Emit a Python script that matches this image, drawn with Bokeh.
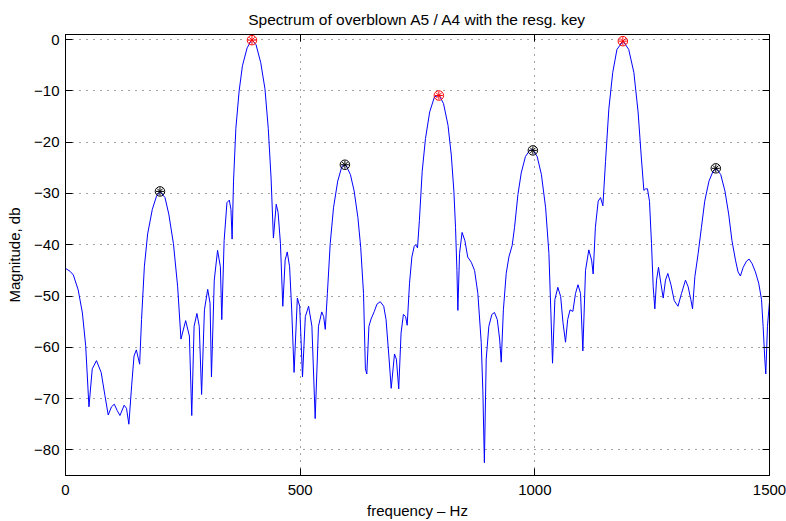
from bokeh.plotting import figure
from bokeh.models import LinearAxis, FixedTicker, Range1d, Title
from bokeh.embed import file_html
from bokeh.resources import INLINE

# ---- data ----
freq = [0, 10, 16.7, 27, 36, 43, 50, 57, 66, 76, 84, 91, 98, 104, 110, 116, 125, 130, 135,
        141, 146, 151, 154, 158, 162, 168, 175, 185, 194, 202, 212, 220, 230, 239, 246,
        256, 264, 269, 274, 280, 285, 290, 296, 303, 308, 311, 317, 324, 330, 333, 338,
        344, 349, 352.5, 355, 358, 363, 370, 377, 387, 397, 406, 416, 425, 432, 438, 443,
        449, 453, 458, 463, 468, 472.5, 477.5, 482, 487, 494, 499, 505, 511, 518, 525, 532,
        539, 546, 550, 553.5, 558, 564, 571, 580, 589, 597, 607, 615, 623, 629, 635, 639,
        642, 646.5, 651, 658, 663.5, 670.6, 678, 683, 689, 694, 701, 705, 710, 715, 720,
        724.6, 728, 733, 738, 743, 746, 750, 754, 760, 767, 776, 786, 796, 805.5, 815, 822,
        827.5, 831, 834, 836, 839.6, 845, 851, 857, 864.5, 871.6, 878.6, 885.8, 889.3,
        892.5, 896.4, 902, 908.5, 914, 920, 925, 928.4, 933, 939, 944.7, 951.8, 956.8, 964,
        971, 980, 989, 996, 1005, 1014, 1023, 1030, 1034, 1037.7, 1042.7, 1049, 1055, 1060,
        1065.4, 1070, 1075, 1081, 1086.7, 1092, 1097.4, 1102.3, 1108, 1115, 1121, 1124.3,
        1129, 1135, 1140, 1145, 1150.6, 1157.7, 1166, 1175, 1188, 1200, 1211, 1220, 1227,
        1232.3, 1236, 1240, 1244.3, 1248.6, 1252.2, 1255.7, 1259.3, 1263.5, 1268.5, 1273.5,
        1278.4, 1283.4, 1290, 1297, 1305, 1312.5, 1321, 1326.7, 1332.4, 1336, 1341, 1348,
        1355, 1362, 1371, 1380, 1387, 1396, 1405, 1413, 1420, 1427.5, 1433, 1438, 1444,
        1451, 1456.6, 1463, 1470, 1477, 1483, 1486.4, 1490, 1492.1, 1495.7, 1500]
mag = [-44.6, -45.2, -45.9, -48.8, -53.3, -59.7, -71.6, -64.2, -62.6, -64.9, -69.4, -73.2,
       -71.6, -71.1, -72.3, -73.3, -71.3, -71.9, -75.0, -67.4, -61.7, -60.5, -61.7, -63.3,
       -54.6, -44.3, -37.9, -33.1, -30.5, -29.7, -30.8, -34.0, -39.8, -48.2, -58.4, -54.8,
       -57.8, -73.3, -55.9, -53.4, -55.9, -69.2, -52.7, -48.7, -51.4, -65.8, -46.9, -41.1,
       -44.3, -54.6, -39.2, -31.8, -31.3, -33.1, -38.9, -27.6, -17.3, -10.0, -5.1, -1.6,
       0.0, -1.0, -4.5, -9.6, -17.3, -27.0, -38.7, -32.1, -33.7, -39.8, -52.0, -43.0, -41.4,
       -44.3, -52.7, -64.9, -50.4, -52.0, -65.8, -54.0, -52.0, -55.9, -73.9, -55.9, -53.1,
       -54.0, -56.5, -49.5, -39.8, -32.8, -27.6, -24.7, -24.4, -26.3, -29.5, -34.7, -40.5,
       -49.5, -64.2, -65.2, -55.9, -54.5, -53.0, -51.6, -51.1, -52.0, -54.6, -61.7, -68.0,
       -61.3, -62.3, -68.1, -57.2, -53.6, -54.0, -55.7, -47.5, -42.4, -40.3, -40.0, -40.6,
       -35.3, -25.7, -19.3, -14.1, -11.2, -10.8, -12.5, -16.7, -22.5, -29.5, -36.6, -45.0,
       -52.8, -41.7, -37.6, -39.2, -42.4, -43.4, -45.0, -49.5, -59.1, -68.7, -82.5, -62.3,
       -55.9, -53.6, -53.2, -54.6, -58.4, -62.9, -52.7, -45.6, -42.4, -40.1, -36.6, -30.2,
       -26.0, -22.8, -21.6, -21.5, -22.8, -26.3, -32.8, -41.7, -52.7, -63.1, -50.7, -48.3,
       -50.1, -55.2, -59.0, -54.6, -52.7, -53.0, -49.5, -47.8, -49.5, -60.7, -45.0, -41.0,
       -43.0, -45.7, -36.6, -31.5, -30.8, -32.4, -23.8, -13.5, -6.4, -1.9, -0.3, -1.9, -6.4,
       -14.1, -23.1, -29.4, -29.1, -29.1, -31.5, -39.8, -48.2, -52.5, -46.9, -44.4, -47.5,
       -50.4, -46.9, -45.6, -47.8, -50.9, -52.0, -49.5, -46.9, -48.2, -50.7, -52.5, -46.2,
       -41.7, -36.6, -31.5, -27.6, -25.6, -25.2, -26.3, -29.5, -34.0, -39.2, -43.0, -45.3,
       -46.1, -44.4, -43.2, -42.8, -43.7, -45.3, -47.5, -50.7, -55.9, -62.3, -65.2, -55.9,
       -51.1]

peak_black_f = [201.3, 595.3, 995.8, 1385.6]
peak_black_db = [-29.6, -24.4, -21.6, -25.1]
peak_red_f = [397.3, 795.5, 1187.5]
peak_red_db = [-0.1, -10.9, -0.3]

x_ticks = [0, 500, 1000, 1500]
y_ticks = [0, -10, -20, -30, -40, -50, -60, -70, -80]

FONT = "Liberation Sans"
FS = "15px"

p = figure(width=786, height=521, output_backend="svg", toolbar_location=None,
           x_range=Range1d(0, 1500), y_range=Range1d(-85, 1),
           min_border_left=65, min_border_right=17, min_border_top=34, min_border_bottom=41,
           x_axis_label="frequency \u2013 Hz", y_axis_label="Magnitude, db")
p.background_fill_color = "white"
p.border_fill_color = "white"
p.outline_line_color = "black"
p.outline_line_width = 1

p.title = Title(text="Spectrum of overblown A5 / A4 with the resg. key", align="center",
                text_font=FONT, text_font_size="15.5px", text_font_style="normal",
                text_color="black", standoff=13)

def label_map(ticks):
    return {t: (str(t).replace("-", "\u2212")) for t in ticks}

def style_axis(ax, ticks, show_labels):
    ax.ticker = FixedTicker(ticks=ticks)
    ax.major_tick_in = 7
    ax.major_tick_out = 0
    ax.minor_tick_in = 0
    ax.minor_tick_out = 0
    ax.axis_line_color = "black"
    ax.major_tick_line_color = "black"
    ax.axis_label_text_font = FONT
    ax.axis_label_text_font_size = FS
    ax.axis_label_text_font_style = "normal"
    ax.axis_label_text_color = "black"
    ax.major_label_text_font = FONT
    ax.major_label_text_font_size = FS
    ax.major_label_text_color = "black"
    if show_labels:
        ax.major_label_overrides = label_map(ticks)
    else:
        ax.major_label_text_color = None
        ax.major_label_text_alpha = 0
        ax.major_label_standoff = 0

style_axis(p.xaxis[0], x_ticks, True)
style_axis(p.yaxis[0], y_ticks, True)
p.xaxis[0].major_label_standoff = 9
p.yaxis[0].major_label_standoff = 6
p.xaxis[0].axis_label_standoff = 4
p.yaxis[0].axis_label_standoff = 8

top = LinearAxis()
right = LinearAxis()
style_axis(top, x_ticks, False)
style_axis(right, y_ticks, False)
p.add_layout(top, "above")
p.add_layout(right, "right")

for g, t in ((p.xgrid[0], x_ticks), (p.ygrid[0], y_ticks)):
    g.ticker = FixedTicker(ticks=t)
    g.grid_line_color = "#444444"
    g.grid_line_dash = "1 6"
    g.grid_line_width = 1

p.line(freq, mag, line_color="#0000ff", line_width=1)

p.scatter(peak_black_f, peak_black_db, marker="circle", size=9.5, fill_color=None,
          line_color="black", line_width=1)
p.scatter(peak_black_f, peak_black_db, marker="asterisk", size=8, line_color="black", line_width=1)
p.scatter(peak_red_f, peak_red_db, marker="circle", size=9.5, fill_color=None,
          line_color="red", line_width=1)
p.scatter(peak_red_f, peak_red_db, marker="asterisk", size=8, line_color="red", line_width=1)

open("out.html", "w").write(file_html(p, INLINE))
